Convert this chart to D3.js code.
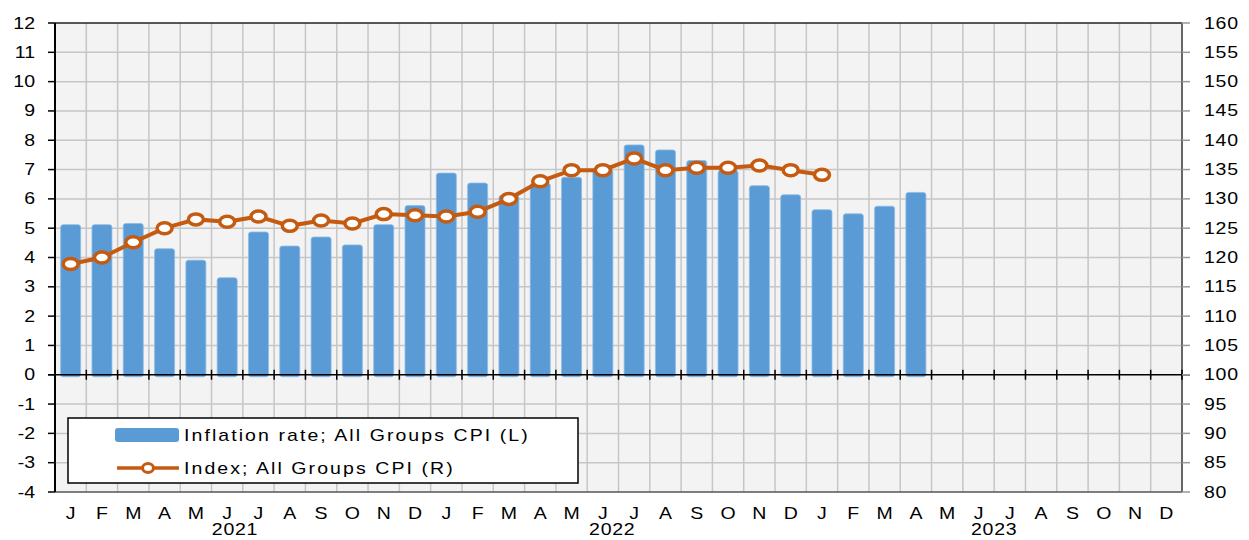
<!DOCTYPE html>
<html>
<head>
<meta charset="utf-8">
<script src="https://cdn.jsdelivr.net/npm/d3@7"></script>
<style>
  body { margin: 0; background: #fff; }
  text { font-family: "Liberation Sans", Arial, sans-serif; fill: #000; }
</style>
</head>
<body>
<svg id="chart" width="1249" height="540"></svg>
<script>
// month letters, three years
var monthLetters = ["J","F","M","A","M","J","J","A","S","O","N","D"];
var years = ["2021", "2022", "2023"];
// year label sits roughly under the Jun/Jul boundary (month index)
var yearPos = [5.75, 17.8, 30.0];

// inflation rate, % (left axis), Jan 2021 .. Apr 2023
var inflation = [5.12, 5.12, 5.16, 4.30, 3.91, 3.31, 4.87, 4.39, 4.70, 4.43, 5.12, 5.77,
                 6.88, 6.54, 6.12, 6.54, 6.74, 7.02, 7.84, 7.67, 7.31, 6.97, 6.45, 6.14,
                 5.63, 5.49, 5.75, 6.22];
// CPI index (right axis), Jan 2021 .. Jan 2023
var cpiIndex = [118.9, 120.0, 122.6, 125.0, 126.5, 126.1, 127.0, 125.4, 126.3, 125.8, 127.4, 127.2,
                127.0, 127.8, 130.0, 133.0, 134.9, 134.9, 136.9, 134.9, 135.3, 135.3, 135.7, 134.9,
                134.1];

var leftTicks = d3.range(-4, 13);
var rightTicks = d3.range(80, 161, 5);

var margin = {top: 23, left: 55, right: 1182, bottom: 492};
var svg = d3.select("#chart");
var sx = 1.22; // the original text is drawn a bit wide

var nMonths = years.length * 12;
var step = (margin.right - margin.left) / nMonths;
var xEdge = function(i) { return margin.left + i * step; };
var xMid = function(i) { return margin.left + (i + 0.5) * step; };

var yL = d3.scaleLinear().domain([-4, 12]).range([margin.bottom, margin.top]);
var yR = d3.scaleLinear().domain([80, 160]).range([margin.bottom, margin.top]);

function wideText(g, tx, ty, str, anchor, spacing) {
  return g.append("text")
    .attr("transform", "translate(" + tx + "," + ty + ") scale(" + sx + ",1)")
    .attr("text-anchor", anchor || "start")
    .style("font-size", "16px")
    .style("letter-spacing", (spacing || 0) + "px")
    .text(str);
}

// plot background
svg.append("rect")
  .attr("x", margin.left).attr("y", margin.top)
  .attr("width", margin.right - margin.left)
  .attr("height", margin.bottom - margin.top)
  .attr("fill", "#f3f3f3");

// grid
var grid = svg.append("g").attr("stroke", "#c6c6c6").attr("stroke-width", 1.5);
grid.selectAll(".hg")
  .data(leftTicks.filter(function(d) { return d != 0 && d != 12 && d != -4; }))
  .enter().append("line")
  .attr("x1", margin.left).attr("x2", margin.right)
  .attr("y1", function(d) { return yL(d); })
  .attr("y2", function(d) { return yL(d); });
grid.selectAll(".vg")
  .data(d3.range(1, nMonths))
  .enter().append("line")
  .attr("y1", margin.top).attr("y2", margin.bottom)
  .attr("x1", function(d) { return xEdge(d); })
  .attr("x2", function(d) { return xEdge(d); });

// bars
svg.append("g").selectAll("rect")
  .data(inflation)
  .enter().append("rect")
  .attr("x", function(d, i) { return xMid(i) - 10; })
  .attr("width", 20)
  .attr("y", function(d) { return yL(d); })
  .attr("height", function(d) { return yL(0) - yL(d) + 2; })
  .attr("rx", 2.5)
  .attr("fill", "#5b9bd5")
  .attr("stroke", "#8dbbe6")
  .attr("stroke-width", 0.8);

// frame
svg.append("line").attr("x1", margin.left).attr("x2", margin.right)
  .attr("y1", margin.top).attr("y2", margin.top)
  .attr("stroke", "#222").attr("stroke-width", 1.5);
svg.append("line").attr("x1", margin.left).attr("x2", margin.right)
  .attr("y1", margin.bottom).attr("y2", margin.bottom)
  .attr("stroke", "#555").attr("stroke-width", 1.5);
svg.append("line").attr("x1", margin.right).attr("x2", margin.right)
  .attr("y1", margin.top).attr("y2", margin.bottom)
  .attr("stroke", "#666").attr("stroke-width", 2);

// zero line with month ticks
svg.append("line").attr("x1", margin.left - 7).attr("x2", margin.right + 8)
  .attr("y1", yL(0)).attr("y2", yL(0))
  .attr("stroke", "#000").attr("stroke-width", 1.5);
svg.append("g").selectAll("line")
  .data(d3.range(1, nMonths + 1))
  .enter().append("line")
  .attr("x1", function(d) { return xEdge(d); })
  .attr("x2", function(d) { return xEdge(d); })
  .attr("y1", yL(0) - 5).attr("y2", yL(0) + 5)
  .attr("stroke", "#000").attr("stroke-width", 1.5);

// left axis
svg.append("line").attr("x1", margin.left).attr("x2", margin.left)
  .attr("y1", margin.top).attr("y2", margin.bottom)
  .attr("stroke", "#000").attr("stroke-width", 2);
var la = svg.append("g");
leftTicks.forEach(function(d) {
  la.append("line").attr("x1", margin.left - 7).attr("x2", margin.left)
    .attr("y1", yL(d)).attr("y2", yL(d))
    .attr("stroke", "#000").attr("stroke-width", 1.5);
  wideText(la, 35, yL(d) + 5.5, d, "end");
});

// right axis
var ra = svg.append("g");
rightTicks.forEach(function(d) {
  ra.append("line").attr("x1", margin.right).attr("x2", margin.right + 8)
    .attr("y1", yR(d)).attr("y2", yR(d))
    .attr("stroke", "#999").attr("stroke-width", 1.5);
  wideText(ra, 1204, yR(d) + 5.5, d, "start", 0.6);
});

// month and year labels
var xa = svg.append("g");
d3.range(nMonths).forEach(function(i) {
  wideText(xa, xMid(i), 519, monthLetters[i % 12], "middle");
});
years.forEach(function(yr, k) {
  wideText(xa, xEdge(yearPos[k]), 535, yr, "middle", 0.6);
});

// CPI line
var line = d3.line()
  .x(function(d, i) { return xMid(i); })
  .y(function(d) { return yR(d); });
svg.append("path")
  .attr("d", line(cpiIndex))
  .attr("fill", "none")
  .attr("stroke", "#c55a11")
  .attr("stroke-width", 4);
svg.append("g").selectAll("ellipse")
  .data(cpiIndex)
  .enter().append("ellipse")
  .attr("cx", function(d, i) { return xMid(i); })
  .attr("cy", function(d) { return yR(d); })
  .attr("rx", 7.5).attr("ry", 5.5)
  .attr("fill", "#fff")
  .attr("stroke", "#c55a11")
  .attr("stroke-width", 3.5);

// legend
var lg = svg.append("g");
lg.append("rect")
  .attr("x", 68).attr("y", 418).attr("width", 510).attr("height", 65)
  .attr("fill", "#fff").attr("stroke", "#000").attr("stroke-width", 1.5);
lg.append("rect")
  .attr("x", 115).attr("y", 428).attr("width", 64).attr("height", 14)
  .attr("rx", 3).attr("fill", "#5b9bd5");
wideText(lg, 184, 441, "Inflation rate; All Groups CPI (L)", "start", 1.7);
lg.append("line")
  .attr("x1", 117).attr("x2", 179).attr("y1", 468).attr("y2", 468)
  .attr("stroke", "#c55a11").attr("stroke-width", 3.5);
lg.append("ellipse")
  .attr("cx", 148).attr("cy", 468).attr("rx", 5.5).attr("ry", 4.5)
  .attr("fill", "#fff").attr("stroke", "#c55a11").attr("stroke-width", 3);
wideText(lg, 184, 474, "Index; All Groups CPI (R)", "start", 1.7);
</script>
</body>
</html>
